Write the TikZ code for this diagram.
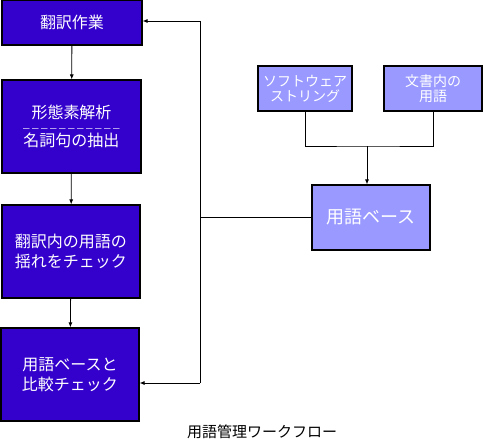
\documentclass[tikz,border=0pt]{standalone}
\usepackage{fontspec}
\setmainfont{Noto Sans CJK JP}
\usetikzlibrary{arrows.meta}
\definecolor{taskblue}{HTML}{3300CC}
\definecolor{srcblue}{HTML}{9999FF}
\tikzstyle{task}=[rectangle, fill=taskblue, draw=black, line width=1.2pt, text=white, align=center, inner sep=0pt, font=\fontsize{16}{20}\selectfont]
\tikzstyle{src}=[rectangle, fill=srcblue, draw=black, line width=1.2pt, text=white, align=center, inner sep=0pt, font=\fontsize{14}{15}\selectfont]
\tikzstyle{flow}=[-{Latex[length=5pt,width=4pt]}, line width=0.8pt]
\tikzstyle{wire}=[line width=0.8pt]

\begin{document}
\begin{tikzpicture}[x=1pt,y=-1pt]
	\useasboundingbox (0,0) rectangle (483,440);

	% left column
	\node[task, minimum width=140pt, minimum height=45pt](transl) at (72,22.5){翻訳作業};
	\node[task, minimum width=139pt, minimum height=93pt](morph) at (71.5,126.5){形態素解析\\[-6pt]{\fontsize{9}{9}\selectfont －－－－－－－－－－－}\\[-6pt]名詞句の抽出};
	\node[task, minimum width=138pt, minimum height=93pt](check) at (71,251.5){翻訳内の用語の\\揺れをチェック};
	\node[task, minimum width=138pt, minimum height=93pt](compare) at (70,374.5){用語ベースと\\比較チェック};

	% right side
	\node[src, minimum width=94pt, minimum height=45pt](softstr) at (305,88.5){ソフトウェア\\ストリング};
	\node[src, minimum width=98pt, minimum height=45pt](docterm) at (433,88.5){文書内の\\用語};
	\node[src, minimum width=118pt, minimum height=65pt, font=\fontsize{18}{20}\selectfont](termbase) at (371,217.5){用語ベース};

	\node(caption) at (262,432){\fontsize{15}{16}\selectfont 用語管理ワークフロー};

	\coordinate (fbtop) at (200,21);
	\coordinate (fbbot) at (200,383);
	\coordinate (join) at (367,146);

	\draw[flow] (transl) -- (morph);
	\draw[flow] (morph) -- (check);
	\draw[flow] (check) -- (compare);

	\draw[wire] (softstr.south) |- (join) -| (docterm.south);
	\draw[flow] (join) -- (join |- termbase.north);

	\draw[wire] (termbase.west) -- (fbtop |- termbase.west);
	\draw[wire] (fbtop) -- (fbbot);
	\draw[flow] (fbtop) -- (fbtop -| transl.east);
	\draw[flow] (fbbot) -- (fbbot -| compare.east);
\end{tikzpicture}
\end{document}
